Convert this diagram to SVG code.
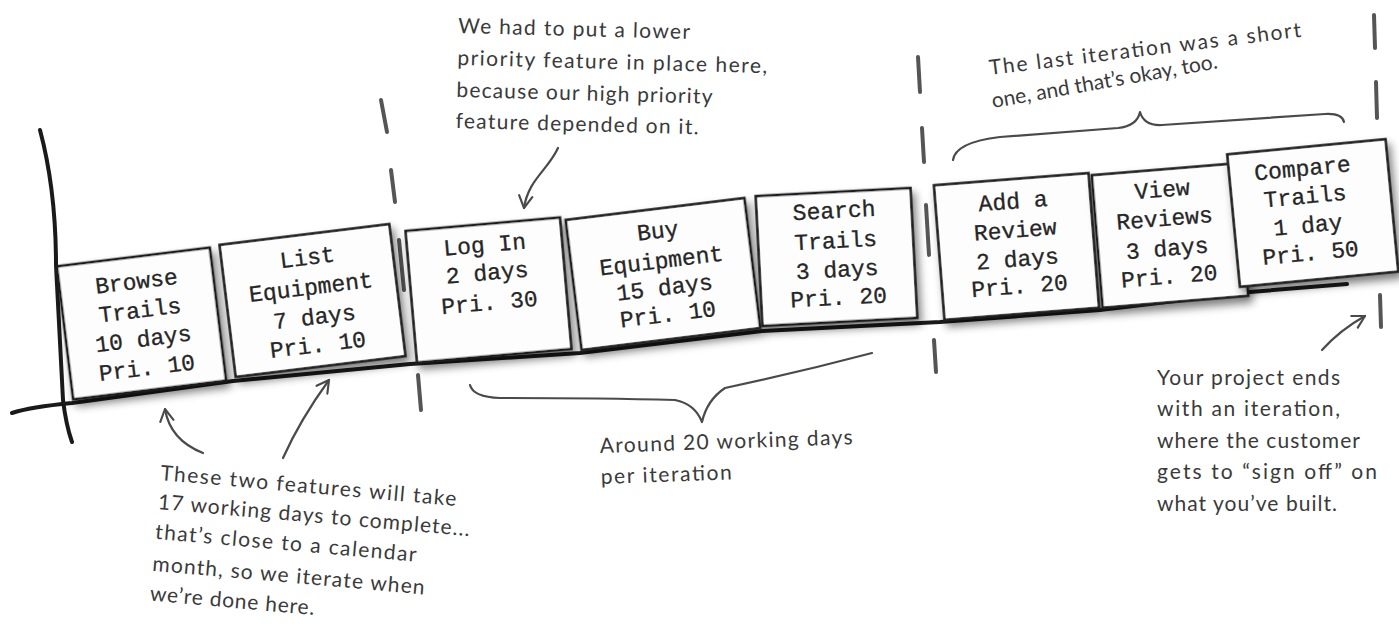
<svg xmlns="http://www.w3.org/2000/svg" width="1399" height="629" viewBox="0 0 1399 629">
<defs>
<style>
.box{fill:#fdfdfd;stroke:#1e1e1e;stroke-width:2.6}
.bt{font-family:"Liberation Mono","Courier New",monospace;font-size:23px;fill:#262626;stroke:#262626;stroke-width:0.3;text-anchor:middle}
.hw{font-family:Lato,"Noto Sans",sans-serif;font-size:21px;fill:#3a3a3a}
.ln{fill:none;stroke:#4a4a4a;stroke-width:2.2;stroke-linecap:round;stroke-linejoin:round}
.dash{stroke:#555;stroke-width:4;stroke-linecap:round}
.axis{fill:none;stroke:#1a1a1a;stroke-width:4;stroke-linecap:round;stroke-linejoin:round}
</style>
<filter id="sh" x="-15%" y="-15%" width="140%" height="145%">
<feGaussianBlur in="SourceAlpha" stdDeviation="4"/>
<feOffset dx="3" dy="6"/>
<feComponentTransfer><feFuncA type="linear" slope="0.5"/></feComponentTransfer>
<feMerge><feMergeNode/><feMergeNode in="SourceGraphic"/></feMerge>
</filter>
<marker id="chev" viewBox="0 0 12 12" refX="10" refY="6" markerWidth="16" markerHeight="16" markerUnits="userSpaceOnUse" orient="auto">
<path d="M1,1 L10,6 L1,11" fill="none" stroke="#4a4a4a" stroke-width="1.6" stroke-linecap="round" stroke-linejoin="round"/>
</marker>
</defs>
<rect width="1399" height="629" fill="#ffffff"/>

<g id="timeline">
<path class="axis" d="M40,130 Q56,190 56,265 L63,400 Q66,425 72,442"/>
<path class="axis" stroke-width="5" d="M12,413 Q30,407 72,403 L233,381 L410,364 L580,353 L762,331 L940,322 L1100,310 L1250,292 L1347,284"/>
</g>

<g id="iteration-dividers">
<line class="dash" x1="381" y1="100" x2="387" y2="132"/>
<line class="dash" x1="391" y1="170" x2="395" y2="202"/>
<line class="dash" x1="399" y1="240" x2="404" y2="290"/>
<line class="dash" x1="418" y1="375" x2="421" y2="410"/>
<line class="dash" x1="918" y1="57" x2="920" y2="92"/>
<line class="dash" x1="922" y1="128" x2="924" y2="162"/>
<line class="dash" x1="926" y1="205" x2="929" y2="255"/>
<line class="dash" x1="934" y1="340" x2="936" y2="372"/>
<line class="dash" x1="1374" y1="15" x2="1375" y2="48"/>
<line class="dash" x1="1376" y1="82" x2="1377" y2="118"/>
<line class="dash" x1="1380" y1="295" x2="1381" y2="327"/>
</g>

<g id="box-browse-trails" transform="translate(141.5,323.5) rotate(-7)">
<rect class="box" x="-77" y="-67" width="154" height="134" filter="url(#sh)"/>
<text class="bt" x="0" y="-35">Browse</text>
<text class="bt" x="0" y="-6">Trails</text>
<text class="bt" x="0" y="23">10 days</text>
<text class="bt" x="0" y="52">Pri. 10</text>
</g>
<g id="box-list-equipment" transform="translate(312.5,300.5) rotate(-7)">
<rect class="box" x="-85.5" y="-66.5" width="171" height="133" filter="url(#sh)"/>
<text class="bt" x="0" y="-36">List</text>
<text class="bt" x="0" y="-6">Equipment</text>
<text class="bt" x="0" y="24">7 days</text>
<text class="bt" x="0" y="52">Pri. 10</text>
</g>
<g id="box-log-in" transform="translate(488.5,290) rotate(-5)">
<rect class="box" x="-77.5" y="-66" width="155" height="132" filter="url(#sh)"/>
<text class="bt" x="0" y="-38">Log In</text>
<text class="bt" x="0" y="-10">2 days</text>
<text class="bt" x="0" y="20">Pri. 30</text>
</g>
<g id="box-buy-equipment" transform="translate(663,274) rotate(-7)">
<rect class="box" x="-90" y="-65.5" width="180" height="131" filter="url(#sh)"/>
<text class="bt" x="0" y="-36">Buy</text>
<text class="bt" x="0" y="-6">Equipment</text>
<text class="bt" x="0" y="21">15 days</text>
<text class="bt" x="0" y="48">Pri. 10</text>
</g>
<g id="box-search-trails" transform="translate(836.5,257) rotate(-3)">
<rect class="box" x="-77.5" y="-65" width="155" height="130" filter="url(#sh)"/>
<text class="bt" x="0" y="-39">Search</text>
<text class="bt" x="0" y="-9">Trails</text>
<text class="bt" x="0" y="20">3 days</text>
<text class="bt" x="0" y="48">Pri. 20</text>
</g>
<g id="box-add-review" transform="translate(1016.5,246.5) rotate(-4.5)">
<rect class="box" x="-77.5" y="-67.5" width="155" height="135" filter="url(#sh)"/>
<text class="bt" x="0" y="-38">Add a</text>
<text class="bt" x="0" y="-9">Review</text>
<text class="bt" x="0" y="20">2 days</text>
<text class="bt" x="0" y="47">Pri. 20</text>
</g>
<g id="box-view-reviews" transform="translate(1170,235.5) rotate(-4.7)">
<rect class="box" x="-73" y="-66.5" width="146" height="133" filter="url(#sh)"/>
<text class="bt" x="-4" y="-39">View</text>
<text class="bt" x="-4" y="-10">Reviews</text>
<text class="bt" x="-4" y="20">3 days</text>
<text class="bt" x="-4" y="48">Pri. 20</text>
</g>
<g id="box-compare-trails" transform="translate(1312.75,213) rotate(-5.5)">
<rect class="box" x="-79.5" y="-66.5" width="159" height="133" filter="url(#sh)"/>
<text class="bt" x="-6" y="-38">Compare</text>
<text class="bt" x="-6" y="-10">Trails</text>
<text class="bt" x="-6" y="19">1 day</text>
<text class="bt" x="-6" y="47">Pri. 50</text>
</g>

<g id="connectors">
<path class="ln" d="M203,453 Q170,440 165,409" marker-end="url(#chev)"/>
<path class="ln" d="M283,458 Q300,420 329,380" marker-end="url(#chev)"/>
<path class="ln" d="M558,148 C548,170 528,180 524,208" marker-end="url(#chev)"/>
<path class="ln" d="M1322,350 Q1340,330 1365,316" marker-end="url(#chev)"/>
<path class="ln" d="M470,385 Q473,397 500,398 Q600,398 675,400 Q695,404 702,422 Q707,400 725,388 Q800,372 872,353"/>
<path class="ln" d="M953,160 C955,146 975,140 1000,137 L1118,128 Q1137,126 1140,112 Q1144,126 1162,125 L1325,114 Q1342,113 1344,122"/>
</g>

<g id="note-two-features" transform="rotate(5,160,480)">
<text class="hw" x="160" y="480" textLength="297">These two features will take</text>
<text class="hw" x="160" y="509" textLength="313">17 working days to complete...</text>
<text class="hw" x="160" y="539" textLength="262">that’s close to a calendar</text>
<text class="hw" x="160" y="571" textLength="273">month, so we iterate when</text>
<text class="hw" x="160" y="601" textLength="165">we’re done here.</text>
</g>
<g id="note-lower-priority" transform="rotate(1.5,458,33)">
<text class="hw" x="458" y="33" textLength="232">We had to put a lower</text>
<text class="hw" x="458" y="65" textLength="310">priority feature in place here,</text>
<text class="hw" x="458" y="97" textLength="256">because our high priority</text>
<text class="hw" x="458" y="128" textLength="243">feature depended on it.</text>
</g>
<g id="note-last-iteration">
<text class="hw" x="990" y="75" textLength="314" transform="rotate(-7,990,75)">The last iteration was a short</text>
<text class="hw" x="993" y="108" font-size="17" transform="rotate(-10,993,108)">one, and that’s okay, too.</text>
</g>
<g id="note-around-20">
<text class="hw" x="600" y="453" font-size="22" textLength="253" transform="rotate(-2,600,453)">Around 20 working days</text>
<text class="hw" x="601" y="484" textLength="131" transform="rotate(-2,601,484)">per iteration</text>
</g>
<g id="note-project-ends">
<text class="hw" x="1157" y="385" textLength="183">Your project ends</text>
<text class="hw" x="1157" y="416" textLength="183">with an iteration,</text>
<text class="hw" x="1157" y="448" textLength="203">where the customer</text>
<text class="hw" x="1157" y="479" textLength="220">gets to “sign off” on</text>
<text class="hw" x="1157" y="511" textLength="180">what you’ve built.</text>
</g>
</svg>
